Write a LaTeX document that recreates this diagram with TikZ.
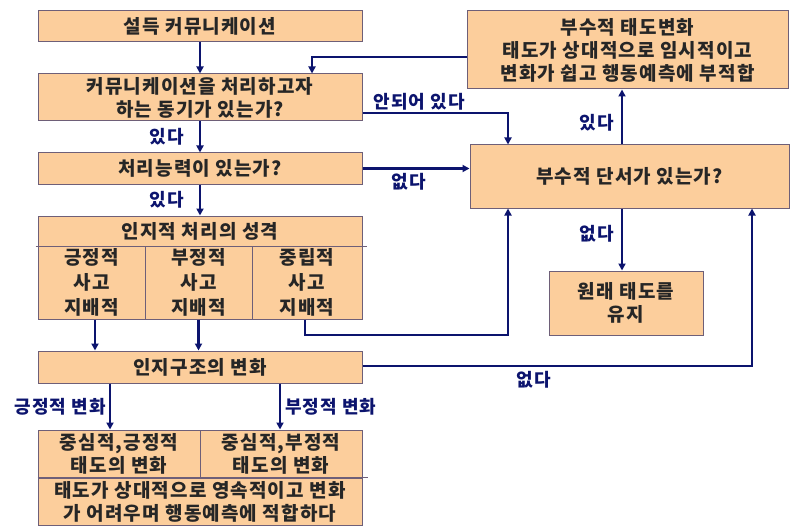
\documentclass[tikz,border=0pt]{standalone}
\usepackage{fontspec}
\setmainfont{Noto Sans CJK KR}[LetterSpace=6]
\usetikzlibrary{arrows.meta,positioning}
\definecolor{peach}{RGB}{252,206,156}
\definecolor{boxline}{RGB}{110,95,120}
\definecolor{flow}{RGB}{12,20,110}
\newcommand{\boxfont}{\fontsize{19}{23}\selectfont\bfseries}
\newcommand{\lblfont}{\fontsize{18}{20}\selectfont\bfseries}

\begin{document}
\begin{tikzpicture}[x=1pt, y=-1pt,
    block/.style={rectangle, draw=boxline, line width=1pt, fill=peach, minimum width=324pt, inner sep=0pt, align=center, font=\boxfont, text=black!85},
    cell/.style={block, font=\fontsize{19}{25}\selectfont\bfseries},
    arrow/.style={-{Triangle[length=7pt,width=7pt]}, line width=2.6pt, draw=flow},
    line/.style={line width=2.6pt, draw=flow},
    lbl/.style={text=flow, font=\lblfont, inner sep=1pt}]

    \useasboundingbox (0,0) rectangle (798,532);

    \node[block, minimum height=31pt] (persuade) at (200,26.5) {설득 커뮤니케이션};
    \node[block, minimum height=47pt] (motive) at (200,97.5) {커뮤니케이션을 처리하고자\\하는 동기가 있는가?};
    \node[block, minimum height=31pt] (ability) at (200,168.5) {처리능력이 있는가?};

    \node[block, minimum height=30pt] (nature) at (200,231) {인지적 처리의 성격};
    \node[cell, minimum width=107pt, minimum height=73pt] (pos_think) at (91.5,282.5) {긍정적\\사고\\지배적};
    \node[cell, minimum width=107pt, minimum height=73pt] (neg_think) at (198.5,282.5) {부정적\\사고\\지배적};
    \node[cell, minimum width=110pt, minimum height=73pt] (neu_think) at (307,282.5) {중립적\\사고\\지배적};
    \draw[boxline, line width=1pt] ([xshift=-2pt]nature.south west) -- ([xshift=4pt]nature.south east);

    \node[block, minimum height=32pt] (structure) at (200,367) {인지구조의 변화};

    \node[block, minimum width=162pt, minimum height=48pt] (central_pos) at (119,454) {중심적,긍정적\\태도의 변화};
    \node[block, minimum width=162pt, minimum height=48pt] (central_neg) at (281,454) {중심적,부정적\\태도의 변화};
    \node[block, minimum height=47pt] (central) at (200,501.5) {태도가 상대적으로 영속적이고 변화\\가 어려우며 행동예측에 적합하다};
    \draw[boxline, line width=1pt] (central.north west) -- ([xshift=5pt]central.north east);

    \node[block, minimum width=321pt, minimum height=78pt] (peripheral) at (627.5,50) {부수적 태도변화\\태도가 상대적으로 임시적이고\\변화가 쉽고 행동예측에 부적합};
    \node[block, minimum width=319pt, minimum height=63pt] (cue) at (629.5,176.5) {부수적 단서가 있는가?};
    \node[block, minimum width=154pt, minimum height=64pt] (keep) at (626,303) {원래 태도를\\유지};

    \coordinate (cue_top_in) at (508,113);
    \coordinate (cue_bot_in) at (508,335);
    \coordinate (back_turn) at (312,57);
    \coordinate (none_turn) at (752,366);
    \coordinate (cue_x) at (622,0);
    \coordinate (pos_x) at (110,0);
    \coordinate (neg_x) at (280,0);
    \coordinate (c1_x) at (95,0);
    \coordinate (c3_x) at (305,0);

    \draw[arrow] (persuade) -- (motive);
    \draw[arrow] (motive) -- node[lbl, left=14pt] {있다} (ability);
    \draw[arrow] (ability) -- node[lbl, left=14pt] {있다} (nature);

    \draw[arrow] (motive.east |- cue_top_in) -- node[lbl, above, pos=0.39] {안되어 있다} (cue_top_in) -- (cue.north -| cue_top_in);
    \draw[arrow] (ability.east) -- node[lbl, below=2pt, pos=0.43] {없다} (ability.east -| cue.west);
    \draw[arrow] (cue.north -| cue_x) -- node[lbl, left=6pt, pos=0.4] {있다} (peripheral.south -| cue_x);
    \draw[arrow] (peripheral.west |- back_turn) -- (back_turn) -- (motive.north -| back_turn);
    \draw[arrow] (cue.south -| cue_x) -- node[lbl, left=6pt, pos=0.4] {없다} (keep.north -| cue_x);

    \draw[arrow] (pos_think.south -| c1_x) -- (structure.north -| c1_x);
    \draw[arrow] (neg_think.south) -- (structure.north -| neg_think.south);
    \draw[arrow] (neu_think.south -| c3_x) |- (cue_bot_in) -- (cue.south -| cue_bot_in);
    \draw[arrow] (structure.east |- none_turn) -- node[lbl, below=3pt, pos=0.44] {없다} (none_turn) -- (cue.south -| none_turn);

    \draw[arrow] (structure.south -| pos_x) -- node[lbl, left=2pt] {긍정적 변화} (central_pos.north -| pos_x);
    \draw[arrow] (structure.south -| neg_x) -- node[lbl, right=3pt] {부정적 변화} (central_neg.north -| neg_x);
\end{tikzpicture}
\end{document}
